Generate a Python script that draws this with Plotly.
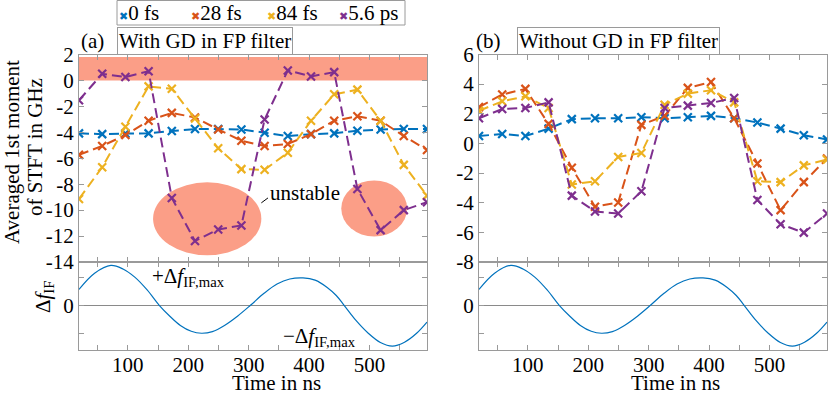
import plotly.graph_objects as go

# ---------------- data ----------------
time_ns = [19.2, 57.6, 96.0, 134.4, 172.8, 211.2, 249.6, 288.0, 326.4, 364.8,
           403.2, 441.6, 480.0, 518.4, 556.8, 595.2]

series_names = ["0 fs", "28 fs", "84 fs", "5.6 ps"]
series_colors = ["#0072BD", "#D95319", "#EDB120", "#7E2F8E"]

# (a) With GD in FP filter
a_0fs = [-4.08, -4.14, -4.1, -4.08, -3.9, -3.75, -3.75, -3.78, -4.03, -4.29,
         -4.14, -4.08, -3.88, -3.78, -3.75, -3.75]
a_28fs = [-5.74, -5.05, -4.21, -3.11, -2.5, -2.86, -3.78, -4.65, -5.05, -4.9,
          -4.14, -3.11, -2.76, -3.11, -4.29, -5.36]
a_84fs = [-9.14, -6.69, -3.57, -0.46, -0.64, -2.94, -5.23, -6.84, -6.89, -5.57,
          -3.11, -1.07, -0.71, -3.11, -6.51, -8.88]
a_56ps = [-1.53, 0.51, 0.26, 0.71, -9.06, -12.38, -11.49, -11.18, -3.01, 0.77,
          0.31, 0.64, -8.37, -11.54, -10.0, -9.39]

# (b) Without GD in FP filter
b_0fs = [0.5, 0.64, 0.5, 1.0, 1.64, 1.7, 1.7, 1.77, 1.7, 1.77,
         1.86, 1.7, 1.41, 1.0, 0.55, 0.27]
b_28fs = [2.45, 3.3, 3.68, 1.32, -1.64, -4.27, -3.98, 1.25, 1.86, 3.75,
          4.14, 1.7, -1.36, -4.5, -2.61, -1.02]
b_84fs = [2.2, 2.84, 3.18, 2.39, -2.77, -2.55, -0.91, -0.64, 2.61, 3.36,
          3.59, 2.77, -2.55, -2.61, -1.48, -1.09]
b_56ps = [1.7, 2.32, 2.39, 2.77, -3.52, -4.59, -4.73, -3.23, 2.39, 2.55,
          2.73, 3.07, -3.82, -5.45, -6.02, -4.73]

# IF frequency deviation (lower panels)
if_t = [19.2, 45, 72, 92, 112, 132, 152, 170, 187, 205, 222, 240, 260, 282, 303,
        325, 347, 368, 390, 410, 430, 445, 458, 478, 498, 518, 538, 558, 578, 595.2]
if_v = [0.57, 1.15, 1.43, 1.3, 1.0, 0.55, 0.0, -0.4, -0.72, -0.93, -1.0, -0.94,
        -0.72, -0.38, 0.0, 0.42, 0.76, 0.94, 0.98, 0.9, 0.64, 0.35, 0.0, -0.55,
        -1.0, -1.33, -1.46, -1.32, -1.0, -0.6]

# tick labels
x_tickvals = [50, 100, 150, 200, 250, 300, 350, 400, 450, 500, 550]
x_ticktext = ["", "100", "", "200", "", "300", "", "400", "", "500", ""]
a_yticks = [2, 0, -2, -4, -6, -8, -10, -12, -14]
a_yticktext = ["2", "0", "-2", "-4", "-6", "-8", "-10", "-12", "-14"]
b_yticks = [6, 4, 2, 0, -2, -4, -6, -8]
b_yticktext = ["6", "4", "2", "0", "-2", "-4", "-6", "-8"]
if_yticks = [-1, 0, 1]
if_yticktext = ["", "0", ""]

# ---------------- figure ----------------
W, H = 830, 396
FONT = "Liberation Serif"
FS = 21
SALMON = "#FB9E87"
FRAME = "#9a9a9a"


def px_x(p):
    return p / W


def px_y(p):
    return 1 - p / H


fig = go.Figure()

a_data = [a_0fs, a_28fs, a_84fs, a_56ps]
b_data = [b_0fs, b_28fs, b_84fs, b_56ps]
for vals, name, col in zip(a_data, series_names, series_colors):
    fig.add_trace(go.Scatter(
        x=time_ns, y=vals, name=name, mode="lines+markers",
        line=dict(color=col, width=2, dash="10px,5px"),
        marker=dict(symbol="x-thin", size=8, line=dict(color=col, width=2.2)),
        xaxis="x", yaxis="y", showlegend=False))
for vals, name, col in zip(b_data, series_names, series_colors):
    fig.add_trace(go.Scatter(
        x=time_ns, y=vals, name=name, mode="lines+markers",
        line=dict(color=col, width=2, dash="10px,5px"),
        marker=dict(symbol="x-thin", size=8, line=dict(color=col, width=2.2)),
        xaxis="x2", yaxis="y2", showlegend=False))

fig.add_trace(go.Scatter(x=if_t, y=if_v, mode="lines", line=dict(color="#0072BD", width=1.2, shape="spline"),
                         xaxis="x3", yaxis="y3", showlegend=False, name="IF"))
fig.add_trace(go.Scatter(x=if_t, y=if_v, mode="lines", line=dict(color="#0072BD", width=1.2, shape="spline"),
                         xaxis="x4", yaxis="y4", showlegend=False, name="IF"))

dom_xl = [px_x(79), px_x(427)]
dom_xr = [px_x(479), px_x(827)]
dom_top = [px_y(262), px_y(54.5)]
dom_bot = [px_y(350), px_y(262)]
xr = [19.2, 595.2]

common_axis = dict(showline=True, linecolor=FRAME, linewidth=1, mirror="allticks",
                   ticks="inside", ticklen=5, tickcolor=FRAME, showgrid=False,
                   zeroline=False, automargin=False,
                   tickfont=dict(family=FONT, size=FS, color="black"))
bottom_x = dict(tickvals=x_tickvals, ticktext=x_ticktext, ticklabelstandoff=-4)

fig.update_layout(
    template="none",
    width=W, height=H, margin=dict(l=0, r=0, t=0, b=0, pad=0),
    paper_bgcolor="white", plot_bgcolor="white",
    font=dict(family=FONT, size=FS, color="black"),
    xaxis=dict(domain=dom_xl, anchor="y", range=xr, tickvals=x_tickvals, showticklabels=False, **common_axis),
    yaxis=dict(domain=dom_top, anchor="x", range=[-14, 2], tickvals=a_yticks, ticktext=a_yticktext, **common_axis),
    xaxis2=dict(domain=dom_xr, anchor="y2", range=xr, tickvals=x_tickvals, showticklabels=False, **common_axis),
    yaxis2=dict(domain=dom_top, anchor="x2", range=[-8, 6], tickvals=b_yticks, ticktext=b_yticktext, **common_axis),
    xaxis3=dict(domain=dom_xl, anchor="y3", range=xr, **bottom_x, **common_axis),
    yaxis3=dict(domain=dom_bot, anchor="x3", range=[-1.6, 1.55], tickvals=if_yticks, ticktext=if_yticktext, **common_axis),
    xaxis4=dict(domain=dom_xr, anchor="y4", range=xr, **bottom_x, **common_axis),
    yaxis4=dict(domain=dom_bot, anchor="x4", range=[-1.6, 1.55], tickvals=if_yticks, ticktext=if_yticktext, **common_axis),
)
for ax in ["yaxis3", "yaxis4"]:
    fig.layout[ax].zeroline = True
    fig.layout[ax].zerolinecolor = "#8a8a8a"
    fig.layout[ax].zerolinewidth = 1

shapes = [
    # stable band
    dict(type="rect", xref="x", yref="y", x0=19.2, x1=595.2, y0=0, y1=1.8,
         fillcolor=SALMON, line=dict(width=0), layer="below"),
    # unstable ellipses
    dict(type="circle", xref="x", yref="y", x0=141.8, x1=321, y0=-13.48, y1=-7.86,
         fillcolor=SALMON, line=dict(width=0), layer="below"),
    dict(type="circle", xref="x", yref="y", x0=453.3, x1=562.3, y0=-12.04, y1=-7.71,
         fillcolor=SALMON, line=dict(width=0), layer="below"),
    dict(type="line", xref="x", yref="y", x0=321, x1=332, y0=-9.44, y1=-9.06,
         line=dict(color="black", width=1)),
    # legend box
    dict(type="rect", xref="paper", yref="paper", x0=px_x(117), x1=px_x(405),
         y0=px_y(25), y1=px_y(0.5), line=dict(color=FRAME, width=1), fillcolor="white"),
]
fig.update_layout(shapes=shapes)


def note(text, x, y, xanchor="center", yanchor="middle", **kw):
    d = dict(text=text, xref="paper", yref="paper", x=px_x(x), y=px_y(y),
             xanchor=xanchor, yanchor=yanchor, showarrow=False,
             font=dict(family=FONT, size=FS, color="black"))
    d.update(kw)
    return d


ann = []
ann.append(dict(text="unstable", xref="x", yref="y", x=393, y=-8.7, showarrow=False,
                xanchor="center", yanchor="middle", font=dict(family=FONT, size=FS)))
ann.append(dict(text="+Δ<i>f</i><sub>IF,max</sub>", xref="x3", yref="y3", x=136, y=1.0,
                xanchor="left", yanchor="middle", showarrow=False, font=dict(family=FONT, size=FS)))
ann.append(dict(text="−Δ<i>f</i><sub>IF,max</sub>", xref="x3", yref="y3", x=354, y=-1.13,
                xanchor="left", yanchor="middle", showarrow=False, font=dict(family=FONT, size=FS)))
# panel titles
ann.append(note("(a)", 92, 41))
ann.append(note("With GD in FP filter", 117, 40.5, xanchor="left",
                bordercolor=FRAME, borderwidth=1, borderpad=1))
ann.append(note("(b)", 488, 41))
ann.append(note("Without GD in FP filter", 517, 40.5, xanchor="left",
                bordercolor=FRAME, borderwidth=1, borderpad=1))
# axis titles
ann.append(note("Averaged 1st moment", 12, 152, textangle=-90))
ann.append(note("of STFT in GHz", 35, 147, textangle=-90))
ann.append(note("Δ<i>f</i><sub>IF</sub>", 44, 297, textangle=-90))
ann.append(note("Time in ns", 276, 396, yanchor="bottom", borderpad=0))
ann.append(note("Time in ns", 675, 396, yanchor="bottom", borderpad=0))
# legend entries
leg_x = [117, 189, 265, 337]
for lx, name, col in zip(leg_x, series_names, series_colors):
    ann.append(note(f'<span style="color:{col};font-family:DejaVu Sans;font-size:11px">✖</span>{name}',
                    lx, 13, xanchor="left"))
fig.update_layout(annotations=ann)

fig.write_html("out.html", config={"displayModeBar": False},
               post_script="document.body.style.margin='0';document.body.style.overflow='hidden';")
